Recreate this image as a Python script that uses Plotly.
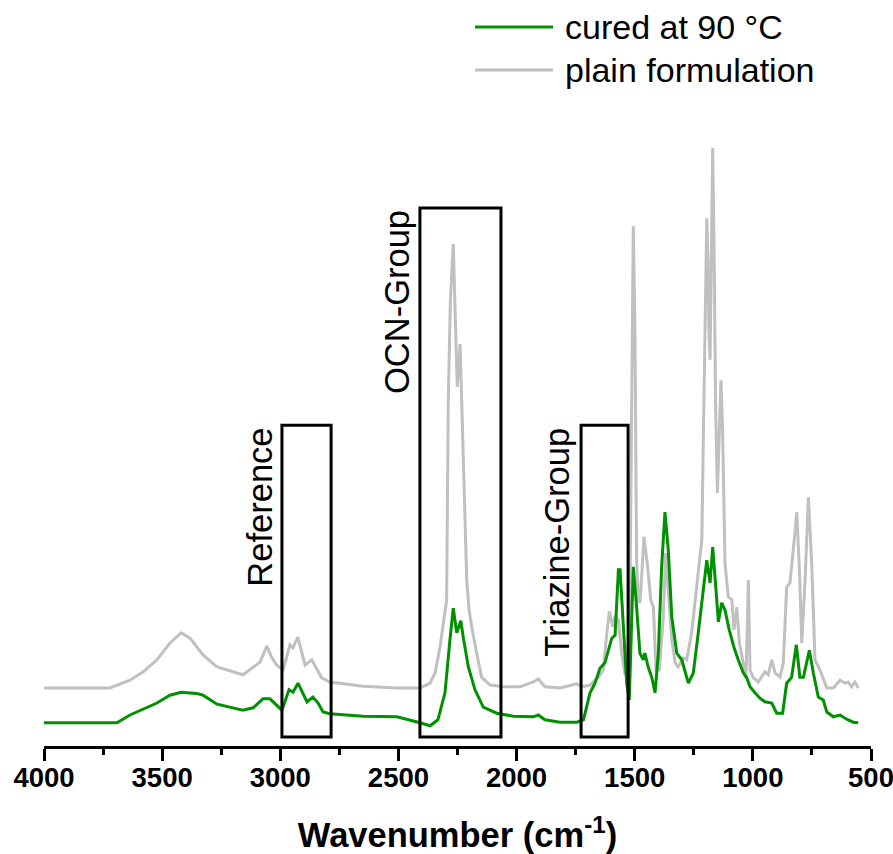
import plotly.graph_objects as go

# FTIR spectra (absorbance, arbitrary units, offset for clarity)
wn_plain = [4000, 3721, 3636, 3580, 3522, 3467, 3420, 3382, 3327, 3268, 3158, 3115, 3086, 3057,
            3039, 3015, 2988, 2959, 2946, 2926, 2912, 2895, 2867, 2849, 2825, 2790, 2650, 2506,
            2409, 2366, 2345, 2324, 2307, 2296, 2289, 2280, 2268, 2261, 2251, 2239, 2232, 2222,
            2211, 2201, 2190, 2169, 2148, 2112, 2056, 1985, 1929, 1908, 1880, 1816, 1745, 1724,
            1689, 1654, 1633, 1618, 1607, 1593, 1583, 1569, 1555, 1541, 1533, 1521, 1512, 1506,
            1499, 1492, 1485, 1478, 1469, 1461, 1447, 1432, 1421, 1410, 1396, 1379, 1369, 1358,
            1343, 1329, 1316, 1294, 1280, 1259, 1238, 1216, 1209, 1202, 1195, 1190, 1186, 1181,
            1175, 1170, 1164, 1158, 1150, 1143, 1135, 1128, 1118, 1104, 1089, 1080, 1068, 1057,
            1040, 1029, 1019, 1012, 998, 977, 949, 935, 920, 906, 885, 871, 857, 843, 829, 814,
            803, 793, 779, 765, 751, 737, 716, 687, 659, 631, 610, 596, 582, 568, 554]
abs_plain = [0.095, 0.095, 0.108, 0.122, 0.142, 0.170, 0.187, 0.178, 0.150, 0.130, 0.117, 0.130,
             0.138, 0.165, 0.148, 0.133, 0.125, 0.167, 0.162, 0.180, 0.158, 0.133, 0.142, 0.128,
             0.112, 0.105, 0.098, 0.095, 0.095, 0.103, 0.120, 0.163, 0.208, 0.242, 0.575, 0.742,
             0.835, 0.742, 0.597, 0.668, 0.575, 0.425, 0.275, 0.225, 0.197, 0.153, 0.113, 0.100,
             0.097, 0.097, 0.105, 0.110, 0.097, 0.095, 0.102, 0.097, 0.100, 0.113, 0.125, 0.187,
             0.223, 0.197, 0.215, 0.208, 0.153, 0.117, 0.128, 0.208, 0.575, 0.865, 0.692, 0.308,
             0.242, 0.237, 0.292, 0.347, 0.303, 0.242, 0.230, 0.125, 0.125, 0.213, 0.320, 0.263,
             0.175, 0.137, 0.130, 0.145, 0.142, 0.187, 0.263, 0.342, 0.525, 0.742, 0.878, 0.808,
             0.692, 0.642, 0.825, 0.995, 0.825, 0.575, 0.420, 0.525, 0.608, 0.525, 0.303, 0.247,
             0.242, 0.192, 0.230, 0.170, 0.137, 0.113, 0.275, 0.125, 0.112, 0.105, 0.122, 0.117,
             0.142, 0.120, 0.113, 0.137, 0.263, 0.270, 0.325, 0.388, 0.292, 0.170, 0.275, 0.413,
             0.303, 0.142, 0.125, 0.095, 0.095, 0.108, 0.103, 0.105, 0.097, 0.105, 0.095]

wn_cured = [4000, 3691, 3636, 3580, 3522, 3467, 3420, 3354, 3327, 3268, 3158, 3115, 3073, 3044,
            3018, 2993, 2963, 2946, 2925, 2908, 2887, 2862, 2840, 2819, 2790, 2650, 2506, 2417,
            2366, 2333, 2303, 2282, 2268, 2253, 2236, 2225, 2204, 2176, 2141, 2084, 2014, 1929,
            1908, 1880, 1816, 1745, 1717, 1689, 1668, 1647, 1626, 1619, 1597, 1583, 1569, 1562,
            1548, 1534, 1523, 1514, 1506, 1492, 1478, 1464, 1457, 1443, 1428, 1414, 1400, 1386,
            1372, 1358, 1343, 1322, 1301, 1273, 1252, 1231, 1210, 1195, 1181, 1170, 1156, 1146,
            1132, 1118, 1100, 1080, 1062, 1040, 1026, 1012, 991, 970, 949, 920, 899, 874, 857,
            836, 816, 801, 786, 761, 744, 723, 702, 687, 659, 631, 603, 575, 554]
abs_cured = [0.037, 0.037, 0.050, 0.060, 0.070, 0.083, 0.088, 0.086, 0.083, 0.068, 0.058, 0.062,
             0.077, 0.077, 0.068, 0.058, 0.092, 0.088, 0.103, 0.088, 0.072, 0.080, 0.070, 0.055,
             0.052, 0.048, 0.047, 0.038, 0.032, 0.042, 0.087, 0.175, 0.228, 0.187, 0.207, 0.178,
             0.130, 0.092, 0.063, 0.053, 0.048, 0.047, 0.050, 0.042, 0.038, 0.038, 0.042, 0.087,
             0.103, 0.128, 0.137, 0.147, 0.178, 0.183, 0.292, 0.292, 0.192, 0.103, 0.075, 0.175,
             0.297, 0.230, 0.153, 0.142, 0.153, 0.130, 0.113, 0.087, 0.153, 0.297, 0.388, 0.325,
             0.213, 0.153, 0.142, 0.103, 0.120, 0.187, 0.263, 0.308, 0.270, 0.330, 0.258, 0.205,
             0.237, 0.225, 0.192, 0.163, 0.142, 0.120, 0.112, 0.097, 0.087, 0.078, 0.072, 0.070,
             0.053, 0.053, 0.103, 0.113, 0.167, 0.113, 0.113, 0.158, 0.120, 0.080, 0.075, 0.055,
             0.047, 0.050, 0.043, 0.038, 0.037]

# Highlighted bands: label, wavenumber limits, box height
band_labels = ["Reference", "OCN-Group", "Triazine-Group"]
band_high = [2993, 2409, 1727]
band_low = [2785, 2066, 1528]
band_top = [0.533, 0.895, 0.533]
band_label_x = [3086, 2506, 1829]
band_bottom = 0.0133

series_names = ["cured at 90 °C", "plain formulation"]
series_colors = ["#009100", "#c0c0c0"]

FONT = "Arial, 'Liberation Sans', sans-serif"

fig = go.Figure()
fig.add_trace(go.Scatter(x=wn_plain, y=abs_plain, mode="lines", name=series_names[1],
                         line=dict(color=series_colors[1], width=3), showlegend=False))
fig.add_trace(go.Scatter(x=wn_cured, y=abs_cured, mode="lines", name=series_names[0],
                         line=dict(color=series_colors[0], width=3), showlegend=False))

for lab, hi, lo, top, lx in zip(band_labels, band_high, band_low, band_top, band_label_x):
    fig.add_shape(type="rect", xref="x", yref="y", x0=hi, x1=lo, y0=band_bottom, y1=top,
                  line=dict(color="black", width=3), fillcolor="rgba(0,0,0,0)")
    fig.add_annotation(x=lx, y=top, xref="x", yref="y", text=lab, textangle=-90,
                       showarrow=False, xanchor="center", yanchor="top",
                       font=dict(family=FONT, size=34.5, color="black"))

# Legend drawn as line samples with labels
leg_y = [1.1672, 1.0974]
for name, col, yy in zip(series_names, series_colors, leg_y):
    fig.add_shape(type="line", xref="paper", yref="paper", x0=0.5212, x1=0.6155, y0=yy, y1=yy,
                  line=dict(color=col, width=3))
    fig.add_annotation(x=0.6276, y=yy, xref="paper", yref="paper", text=name, showarrow=False,
                       xanchor="left", yanchor="middle",
                       font=dict(family=FONT, size=34, color="black"))

fig.update_layout(
    width=893, height=854,
    margin=dict(l=44, r=22, t=130, b=108, autoexpand=False),
    paper_bgcolor="white", plot_bgcolor="white",
    xaxis=dict(
        range=[4000, 500], tick0=500, dtick=500, ticks="outside", ticklen=12, tickwidth=2.5,
        tickcolor="black", showline=True, linecolor="black", linewidth=2.5, showgrid=False,
        zeroline=False, ticklabelstandoff=-7, automargin=False, ticklabeloverflow="allow",
        minor=dict(dtick=250, ticks="outside", ticklen=6, tickwidth=2.5, tickcolor="black",
                   showgrid=False),
        tickfont=dict(family=FONT, size=27.5, color="black", weight="bold"),
        title=dict(text="Wavenumber (cm<sup>-1</sup>)", standoff=32,
                   font=dict(family=FONT, size=34.5, color="black", weight="bold")),
    ),
    yaxis=dict(range=[-0.00167, 1.025], visible=False),
)

fig.write_html("out.html")
